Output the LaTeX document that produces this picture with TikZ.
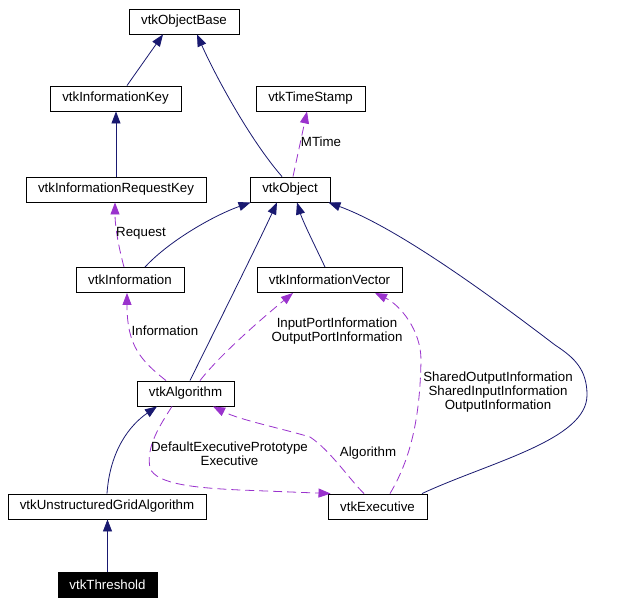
\documentclass[tikz,border=0pt]{standalone}
\usepackage{fontspec}
\setmainfont{Liberation Sans}
\usetikzlibrary{arrows.meta}
\definecolor{navy}{HTML}{191970}
\definecolor{orchid}{HTML}{9A32CD}
\begin{document}
\begin{tikzpicture}[x=1pt,y=-1pt,
  cls/.style={draw=black,line width=0.9pt,fill=white,inner sep=0pt,minimum height=25pt,font=\fontsize{13.3}{14}\selectfont},
  here/.style={cls,fill=black,text=white},
  lbl/.style={inner sep=0pt,align=center,font=\fontsize{13.3}{14}\selectfont},
  inh/.style={draw=navy,line width=0.8pt,arrows={-{Triangle[length=12pt,width=9pt,fill=navy]}}},
  use/.style={draw=orchid,line width=0.8pt,dash pattern=on 9pt off 5pt,arrows={-{Triangle[length=12pt,width=9pt,fill=orchid]}}}]
\fill[white] (0,0) rectangle (626,604);
\useasboundingbox (0,0) rectangle (626,604);
% nodes
\node[cls,minimum width=110pt] (obase) at (184,21.5) {vtkObjectBase};
\node[cls,minimum width=131pt] (ikey) at (115.5,98.5) {vtkInformationKey};
\node[cls,minimum width=109pt] (tstamp) at (310.5,98.5) {vtkTimeStamp};
\node[cls,minimum width=180pt] (rkey) at (116,189.5) {vtkInformationRequestKey};
\node[cls,minimum width=80pt] (obj) at (290,189.5) {vtkObject};
\node[cls,minimum width=108pt] (info) at (130,280) {vtkInformation};
\node[cls,minimum width=145pt] (ivec) at (329.5,280) {vtkInformationVector};
\node[cls,minimum width=97pt] (alg) at (185.5,393.5) {vtkAlgorithm};
\node[cls,minimum width=198pt] (uga) at (107,506.5) {vtkUnstructuredGridAlgorithm};
\node[cls,minimum width=99pt] (exec) at (377.5,506.5) {vtkExecutive};
\node[here,minimum width=99pt] (thr) at (107.5,584.5) {vtkThreshold};
% inheritance
\draw[inh] ([xshift=11.5pt]ikey.north) -- ([xshift=-21pt]obase.south);
\draw[inh] ([xshift=-8pt]obj.north) .. controls (250,140) and (215,75) .. ([xshift=13pt]obase.south);
\draw[inh] (rkey.north) -- (rkey.north |- ikey.south);
\draw[inh] ([xshift=15pt]info.north) .. controls (170,240) and (215,215) .. ([xshift=1pt]obj.south west);
\draw[inh] ([xshift=4.5pt]alg.north) .. controls (205,350) and (255,250) .. ([xshift=-13pt]obj.south);
\draw[inh] ([xshift=-4.5pt]ivec.north) .. controls (317,250) and (303,222) .. ([xshift=7pt]obj.south);
\draw[inh] ([xshift=44.5pt]exec.north) .. controls (490,462) and (587,440) .. (587,395)
  .. controls (587,370) and (575,358) .. (555,345)
  .. controls (470,280) and (390,225) .. ([xshift=-2pt]obj.south east);
\draw[inh] (uga.north) .. controls (110,450) and (130,425) .. ([xshift=-28.5pt]alg.south);
\draw[inh] (thr.north) -- (thr.north |- uga.south);
% usage
\draw[use] ([xshift=3pt]obj.north) -- ([xshift=-3.5pt]tstamp.south);
\node[lbl] (lmtime) at (321,142) {MTime};
\draw[use] ([xshift=-6pt]info.north) .. controls (118,245) and (115,225) .. ([xshift=-1pt]rkey.south);
\node[lbl] (lreq) at (141,233) {Request};
\draw[use] ([xshift=-19.5pt]alg.north) .. controls (140,360) and (127,345) .. ([xshift=-3pt]info.south);
\node[lbl] (linfo) at (165,331) {Information};
\draw[use] ([xshift=14.5pt]alg.north) .. controls (220,355) and (260,320) .. ([xshift=-36.5pt]ivec.south);
\node[lbl] (lport) at (337,331) {InputPortInformation\\OutputPortInformation};
\draw[use] ([xshift=12.5pt]exec.north) .. controls (410,460) and (420,420) .. (421,360)
  .. controls (421,330) and (400,305) .. ([xshift=45.5pt]ivec.south);
\node[lbl] (lshared) at (498,392) {SharedOutputInformation\\SharedInputInformation\\OutputInformation};
\draw[use] ([xshift=-13.5pt]exec.north) .. controls (350,480) and (330,450) .. (310,437)
  .. controls (280,428) and (240,420) .. ([xshift=27.5pt]alg.south);
\node[lbl] (lalg) at (368,453) {Algorithm};
\draw[use] ([xshift=-13.5pt]alg.south) .. controls (158,428) and (146,448) .. (150,468)
  .. controls (156,485) and (200,488) .. (240,490) -- ([xshift=3pt]exec.north west);
\node[lbl] (lexec) at (229.5,454) {DefaultExecutivePrototype\\Executive};
\end{tikzpicture}
\end{document}
